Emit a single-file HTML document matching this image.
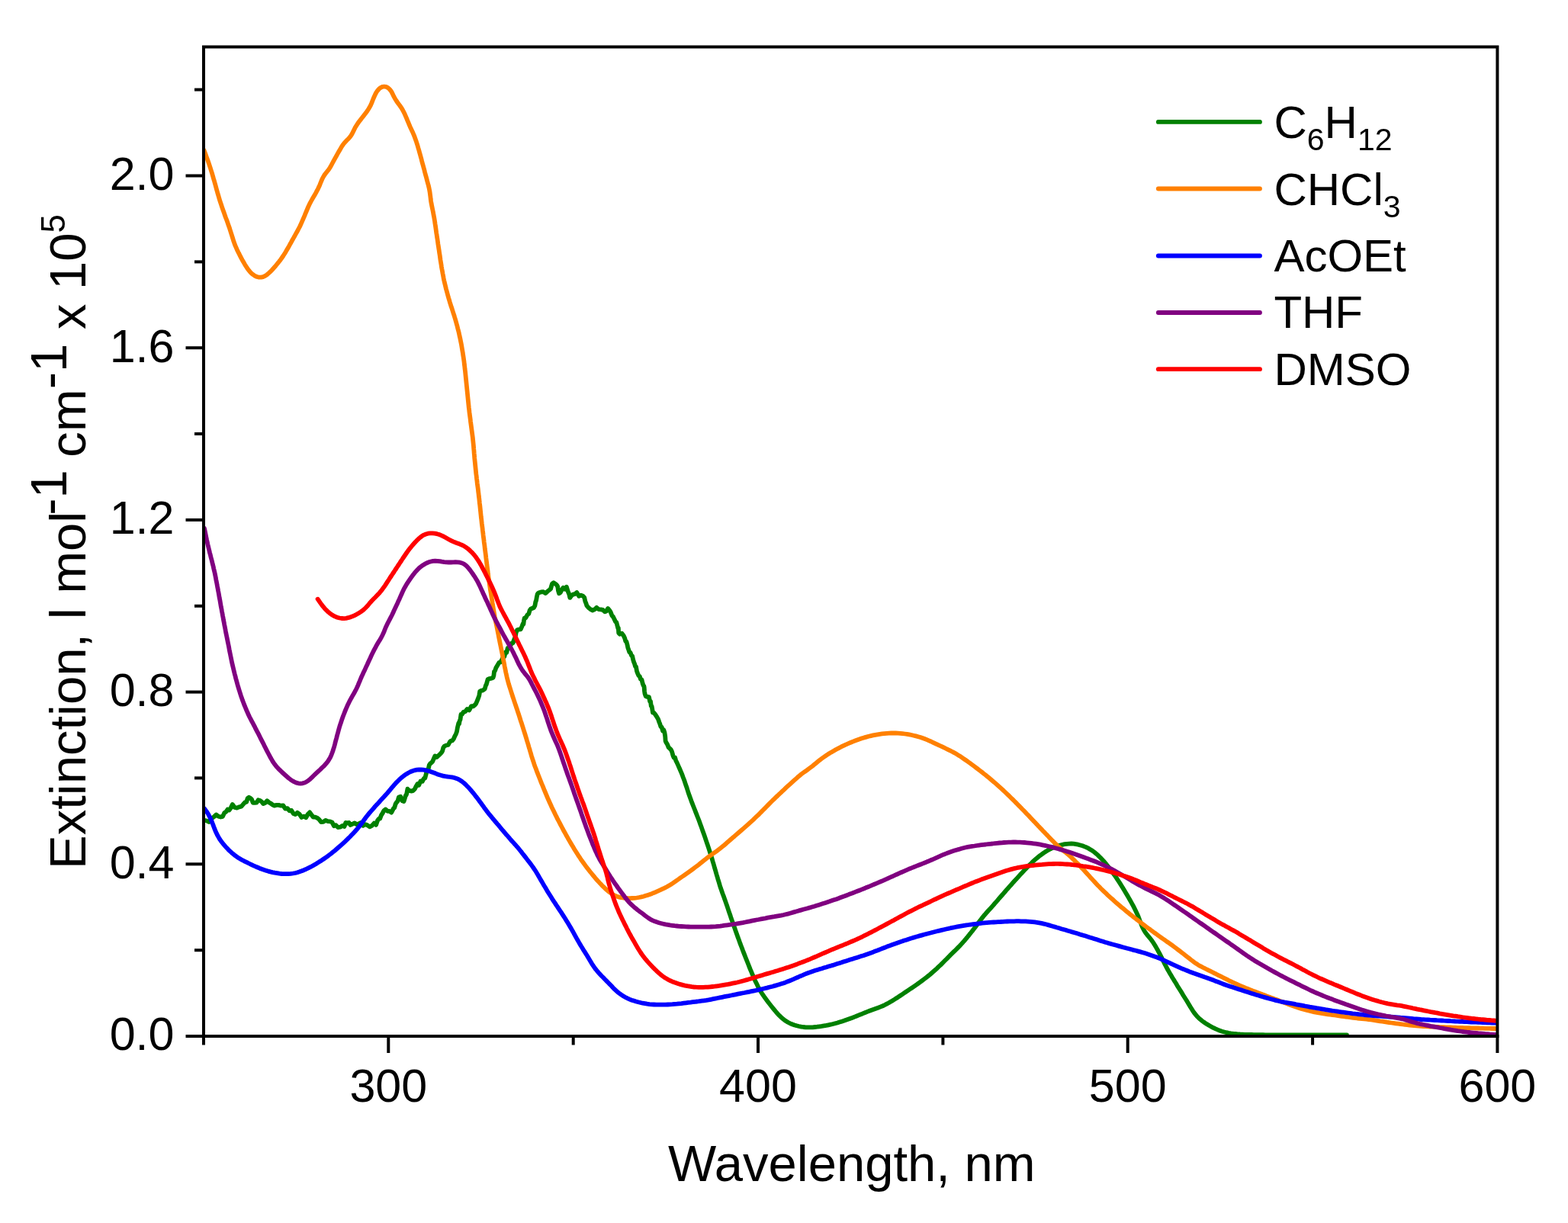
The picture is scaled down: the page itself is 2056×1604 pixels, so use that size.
<!DOCTYPE html>
<html><head><meta charset="utf-8"><title>Extinction spectra</title>
<style>html,body{margin:0;padding:0;background:#fff;}svg{display:block;}</style>
</head><body>
<svg xmlns="http://www.w3.org/2000/svg" width="2056" height="1604" viewBox="0 0 2056 1604">
<rect width="2056" height="1604" fill="#ffffff"/>
<g>
<defs><clipPath id="pc"><rect x="267" y="61.5" width="1696.4" height="1298.5"/></clipPath></defs>
<g clip-path="url(#pc)" fill="none" stroke-width="5.8" stroke-linejoin="round" stroke-linecap="round">
<path d="M268,1075.8 271,1076.5 273.9,1078 276.5,1074.6 278.6,1072.7 280.9,1071 283.6,1068.5 286.5,1070.7 289.4,1071.5 292,1070.9 294.3,1065.9 296.4,1064.7 298.5,1061.6 300.5,1062.5 302.5,1059.7 304.8,1055.1 307.7,1059 310.6,1059.6 313.5,1058.4 316.5,1057.7 319.2,1054.5 321.5,1052.1 323.2,1051.8 324.6,1047.1 326.4,1045.7 328.6,1047 330.1,1048.6 331.8,1052.9 334.3,1052.9 336.4,1052.7 338.6,1049.3 341.1,1050 343.1,1051.5 345.2,1054.1 347.9,1052.8 350.2,1050.2 352.8,1052.5 355.3,1053.9 357.3,1055.4 359.7,1056.6 362.5,1055.9 365.5,1055.9 368.4,1056.7 371.3,1056.5 374.1,1060.6 376.9,1060.1 379.6,1063.4 382.2,1062.9 384.7,1067 387.3,1068.1 389.9,1065.8 392.7,1067.9 395.5,1072 398.4,1070.6 401.2,1072.3 403.6,1068 406.1,1065.4 408.7,1068.9 410.8,1071.7 412.9,1071.6 415.4,1072.4 418.2,1074.5 421.1,1078.1 424,1077.9 426.9,1075.9 429.8,1077.2 432.7,1077.4 435.4,1078.4 437.9,1083.3 440.4,1082.3 443.1,1085.1 446.1,1084.7 449,1083 451.5,1083.9 453.4,1078.9 455.5,1079.6 457.5,1078.9 459.6,1082 462.4,1080.6 465,1079.5 467.8,1081.3 470.7,1080.2 473.5,1078.9 476.1,1082.9 478.8,1081.1 481.8,1082.3 484.8,1084.3 487.7,1082.9 490.6,1079.6 493.1,1081.9 495,1076.3 496.7,1073.9 498.2,1073.6 499.9,1069.2 501.6,1066.6 503.3,1063.2 505.5,1061.4 508.2,1063.8 510.6,1063.9 513.2,1065.7 514.9,1062.4 516.1,1060 517.2,1059.4 518.6,1054.6 519.9,1052.4 521.3,1051 522.9,1045.5 525.2,1044.8 527.3,1050.2 529.5,1051 531,1046.4 531.9,1043.3 532.6,1042.8 533.3,1040.8 534.4,1034.7 536.4,1036.7 539,1037.6 541.6,1037.1 543.9,1034.7 545.8,1030.9 547.5,1028.1 549.2,1029.8 551.4,1024.5 553.8,1024.9 555.9,1020.8 557.3,1020.6 558.3,1016.8 559.3,1012.7 560.4,1009.3 561.6,1009 562.8,1003.4 564.2,1001.4 565.7,1000.3 567.1,998.9 568.7,995.3 570.4,991.4 572.7,993 575.3,990.7 577.5,988.5 578.9,987 580.1,985 581.3,980.6 582.8,978.6 585.1,977.5 587.7,977 589.8,973 591.5,971.5 593,971.3 594.8,969.2 596.4,965.3 597.8,962.8 599,959.6 599.8,954.7 600.6,951.4 601.3,948.4 602,949.4 602.7,945.5 603.5,943.8 604.5,936.8 605.8,936.9 607.7,933.9 610.1,933.2 612.7,929.9 615.3,931.4 618,926.1 620.4,926.3 622.3,924.9 624,923.1 625.4,919.8 626.6,916.9 627.5,914.4 628.3,912.1 629.2,906.7 630.8,905.8 633.4,905.3 635.7,903.5 637,898.8 637.8,897.6 638.5,895 639.6,890.9 641.8,890.1 644.6,889.6 646.5,888.8 647.4,886.1 648,880.8 648.6,880.3 649.3,879 650.4,875.7 652.2,872.7 654.3,869.1 656.3,868.4 658.1,865.2 659.7,862.1 661.3,861.3 662.9,855.4 664.3,855.7 665.7,849.9 667.3,849.9 669.1,847 671,843.6 672.7,843.1 673.9,839.5 674.8,837.2 675.7,835.7 676.6,829.9 678.1,826.3 680.4,825.6 682.7,825.4 684.6,821.1 685.7,818.1 686.4,818.5 686.9,814.4 687.7,810.6 689.3,810.3 691.7,806.1 693.3,805.1 694.6,800.4 695.9,798.7 697.5,798 699.9,797 701.4,794.3 702.3,789.3 703.1,787.3 703.8,783.2 704.6,779.5 705.5,778.2 706.9,777.2 709.5,776.4 712.4,776.2 715.3,778 718.3,775.3 720.7,773.5 722.1,772.1 723.1,768.5 724.1,765.4 725.9,764.3 728.5,765.9 730.3,767.6 731.3,769.6 732,774.8 733,778.3 734.8,777.1 736.7,773.5 738.4,770.8 740.5,772.6 742.9,769.7 744.5,775.1 745.4,777.3 746.2,779.1 747.3,783.9 749.3,781.2 751.4,779.7 753.6,779.2 756.3,777.1 759.1,781.8 761.7,780.6 764.3,781.7 766.2,783.5 767.4,788.8 768.3,790.9 769.4,794.4 771.4,796.7 774,798.9 776.8,800.5 779.6,799.3 782.3,796.8 785,799.2 787.7,799.3 790.4,799.9 793.1,802.3 795.1,801.5 797.1,798 799.1,800.3 800.8,803.1 802.4,807.2 804,809 805.5,812 807,815.2 808.3,816.3 809.5,820.8 810.4,824.2 810.8,823.5 811.2,830.2 812.7,831.7 815.3,830.6 817.7,833.7 819.2,837 820.3,841.1 821.4,841.5 822.4,845.2 823.3,849.4 824.2,851.9 825.3,855.3 826.6,855.9 827.9,859.5 829.1,860.3 830.2,865.3 831.2,868.6 832.1,870.7 833,873.9 834,874.5 835,880.3 836.2,883.4 837.4,886.1 838.7,886.9 840,890.7 841.4,891.3 842.7,896.6 843.7,899.2 844.4,899.9 844.7,901.7 845,906.3 845.5,909.7 846.8,913.3 849,914 851,914.2 852.2,920.3 853,919.9 853.8,926 854.6,926.2 855.2,929.8 856,934.7 857.2,934.6 859.1,936.9 861.4,940.4 863.2,943.7 864.3,947 865.2,949.2 866.4,953 867.7,953.8 869,958.5 870.3,957.4 871.4,960.7 872.1,965 872.3,966.9 872.6,971.8 873.7,974.2 875.1,976.3 876.7,980.3 878.2,981.6 879.7,983.1 881.1,986.1 882.4,990.8 883.7,993.8 885,993.4 886.2,997.4 887.5,1000.1 888.8,1002.9 890,1005.6 891.2,1008.3 892.4,1011.1 893.6,1013.9 894.7,1016.6 895.7,1019.5 896.8,1022.3 897.8,1025.1 898.7,1027.9 899.7,1030.8 900.7,1033.6 901.6,1036.5 902.5,1039.3 903.5,1042.2 904.5,1045 905.5,1047.8 906.5,1050.6 907.6,1053.4 908.7,1056.2 909.8,1059 910.9,1061.8 912,1064.6 913.1,1067.4 914.2,1070.2 915.3,1073 916.4,1075.8 917.4,1078.6 918.4,1081.4 919.5,1084.2 920.5,1087.1 921.5,1089.9 922.5,1092.7 923.5,1095.5 924.5,1098.4 925.4,1101.2 926.4,1104.1 927.4,1106.9 928.3,1109.7 929.3,1112.6 930.2,1115.4 931.1,1118.3 932,1121.2 932.9,1124 933.8,1126.9 934.6,1129.8 935.5,1132.7 936.3,1135.5 937.1,1138.4 938,1141.3 938.8,1144.2 939.6,1147.1 940.5,1149.9 941.3,1152.8 942.2,1155.7 943.1,1158.6 943.9,1161.4 944.8,1164.3 945.8,1167.1 946.8,1170 947.8,1172.8 948.9,1175.6 949.9,1178.4 950.9,1181.2 951.9,1184.1 952.9,1186.9 953.8,1189.7 954.8,1192.6 955.7,1195.4 956.7,1198.3 957.7,1201.1 958.6,1204 959.6,1206.8 960.6,1209.6 961.6,1212.5 962.6,1215.3 963.6,1218.1 964.6,1220.9 965.6,1223.8 966.6,1226.6 967.6,1229.4 968.7,1232.2 969.7,1235.1 970.7,1237.9 971.8,1240.7 972.9,1243.5 973.9,1246.3 975,1249.1 976.1,1251.9 977.2,1254.7 978.3,1257.5 979.4,1260.3 980.5,1263 981.6,1265.8 982.7,1268.6 983.8,1271.4 985,1274.2 986.1,1276.9 987.3,1279.7 988.5,1282.5 989.7,1285.2 991,1287.9 992.3,1290.6 993.6,1293.3 995,1296 996.5,1298.6 998,1301.2 999.6,1303.7 1001.3,1306.2 1003,1308.6 1004.8,1311 1006.6,1313.4 1008.4,1315.8 1010.3,1318.2 1012.1,1320.5 1014,1322.9 1015.9,1325.2 1017.8,1327.5 1019.8,1329.7 1021.9,1331.9 1024,1334 1026.3,1335.9 1028.6,1337.8 1031.1,1339.5 1033.6,1341 1036.3,1342.3 1039.1,1343.5 1041.9,1344.5 1044.7,1345.3 1047.6,1346 1050.6,1346.6 1053.5,1347 1056.5,1347.3 1059.5,1347.4 1062.5,1347.4 1065.5,1347.3 1068.5,1347 1071.5,1346.7 1074.4,1346.3 1077.4,1345.9 1080.4,1345.4 1083.3,1344.9 1086.3,1344.3 1089.2,1343.7 1092.1,1343 1095,1342.2 1097.9,1341.5 1100.8,1340.6 1103.7,1339.7 1106.5,1338.8 1109.3,1337.8 1112.1,1336.8 1115,1335.7 1117.8,1334.7 1120.6,1333.6 1123.4,1332.5 1126.1,1331.4 1128.9,1330.3 1131.7,1329.1 1134.5,1328 1137.3,1326.9 1140.1,1325.8 1142.9,1324.7 1145.7,1323.7 1148.5,1322.7 1151.3,1321.7 1154.1,1320.6 1156.9,1319.5 1159.6,1318.3 1162.3,1316.9 1164.9,1315.5 1167.5,1314 1170.1,1312.5 1172.7,1310.9 1175.2,1309.3 1177.7,1307.7 1180.2,1306 1182.7,1304.3 1185.2,1302.6 1187.6,1301 1190.1,1299.3 1192.6,1297.6 1195.1,1296 1197.6,1294.3 1200.1,1292.6 1202.6,1290.9 1205,1289.1 1207.4,1287.4 1209.8,1285.6 1212.2,1283.8 1214.6,1281.9 1216.9,1280.1 1219.3,1278.2 1221.6,1276.2 1223.8,1274.3 1226.1,1272.3 1228.3,1270.3 1230.5,1268.2 1232.7,1266.2 1234.8,1264.1 1236.9,1262 1239.1,1259.8 1241.2,1257.7 1243.3,1255.6 1245.4,1253.4 1247.5,1251.3 1249.7,1249.2 1251.8,1247.2 1254,1245 1256.1,1242.9 1258.2,1240.8 1260.2,1238.6 1262.2,1236.3 1264.2,1234.1 1266.1,1231.8 1268.1,1229.5 1270,1227.2 1271.8,1224.8 1273.7,1222.5 1275.6,1220.1 1277.4,1217.7 1279.2,1215.4 1281,1213 1282.8,1210.5 1284.6,1208.1 1286.4,1205.7 1288.2,1203.4 1290.1,1201 1292,1198.8 1294,1196.5 1296,1194.3 1298.1,1192.1 1300.1,1189.8 1302.1,1187.6 1304,1185.3 1306,1183.1 1308,1180.8 1309.9,1178.5 1311.9,1176.3 1313.9,1174 1315.8,1171.8 1317.8,1169.5 1319.8,1167.2 1321.8,1165 1323.8,1162.7 1325.8,1160.5 1327.8,1158.2 1329.7,1156 1331.8,1153.8 1333.8,1151.6 1335.8,1149.3 1337.8,1147.1 1339.9,1144.9 1341.9,1142.8 1344,1140.6 1346.1,1138.4 1348.1,1136.2 1350.2,1134.1 1352.4,1132 1354.5,1129.9 1356.7,1127.9 1359,1125.9 1361.3,1124 1363.7,1122.1 1366.1,1120.4 1368.5,1118.6 1371,1117 1373.6,1115.4 1376.2,1114 1378.9,1112.6 1381.6,1111.4 1384.4,1110.3 1387.2,1109.3 1390.1,1108.5 1393,1107.8 1395.9,1107.2 1398.9,1106.8 1401.8,1106.6 1404.8,1106.5 1407.8,1106.7 1410.7,1107.2 1413.7,1107.7 1416.6,1108.5 1419.4,1109.3 1422.2,1110.4 1425,1111.5 1427.7,1112.9 1430.2,1114.4 1432.7,1116 1435.1,1117.8 1437.4,1119.7 1439.6,1121.7 1441.8,1123.8 1443.9,1125.9 1446,1128.1 1448,1130.3 1449.9,1132.6 1451.8,1135 1453.7,1137.3 1455.5,1139.7 1457.3,1142.1 1459,1144.5 1460.8,1147 1462.5,1149.4 1464.2,1151.9 1465.8,1154.4 1467.5,1156.9 1469.1,1159.4 1470.7,1162 1472.3,1164.5 1473.8,1167.1 1475.4,1169.7 1476.9,1172.2 1478.4,1174.8 1479.9,1177.4 1481.4,1180 1482.9,1182.6 1484.4,1185.3 1485.8,1187.9 1487.2,1190.6 1488.5,1193.2 1489.8,1195.9 1491.1,1198.7 1492.3,1201.4 1493.4,1204.2 1494.4,1207 1495.5,1209.8 1496.6,1212.6 1497.7,1215.4 1499,1218.1 1500.4,1220.7 1502,1223.2 1503.8,1225.6 1505.7,1227.9 1507.6,1230.2 1509.5,1232.5 1511.2,1234.9 1512.9,1237.4 1514.5,1240 1516,1242.6 1517.5,1245.2 1518.9,1247.8 1520.3,1250.4 1521.7,1253.1 1523.1,1255.8 1524.4,1258.5 1525.7,1261.1 1527,1263.8 1528.4,1266.5 1529.8,1269.2 1531.2,1271.8 1532.7,1274.4 1534.2,1277 1535.8,1279.6 1537.3,1282.2 1538.9,1284.7 1540.4,1287.3 1542,1289.8 1543.5,1292.4 1545.1,1295 1546.7,1297.5 1548.3,1300.1 1549.9,1302.6 1551.4,1305.2 1553,1307.7 1554.6,1310.2 1556.2,1312.8 1557.8,1315.4 1559.3,1317.9 1560.8,1320.5 1562.4,1323.1 1564,1325.6 1565.7,1328.1 1567.5,1330.4 1569.4,1332.7 1571.5,1334.8 1573.7,1336.8 1576,1338.7 1578.4,1340.5 1580.9,1342.2 1583.5,1343.8 1586,1345.3 1588.7,1346.8 1591.3,1348.1 1594,1349.4 1596.8,1350.6 1599.6,1351.7 1602.4,1352.7 1605.3,1353.5 1608.2,1354.2 1611.1,1354.8 1614.1,1355.3 1617,1355.7 1620,1356 1623,1356.3 1626,1356.5 1629,1356.6 1632,1356.8 1635,1356.9 1638,1357 1641,1357 1644,1357.1 1647,1357.1 1650,1357.2 1653,1357.2 1656,1357.2 1659,1357.3 1662,1357.3 1665,1357.4 1668,1357.4 1671,1357.4 1674,1357.4 1677,1357.4 1680,1357.5 1683,1357.5 1686,1357.5 1689,1357.5 1692,1357.5 1695,1357.5 1698,1357.5 1701,1357.5 1704,1357.5 1707,1357.5 1710,1357.5 1713,1357.5 1716,1357.5 1719,1357.5 1722,1357.5 1725,1357.5 1728,1357.5 1731,1357.5 1734,1357.5 1737,1357.5 1740,1357.5 1743,1357.5 1746,1357.5 1749,1357.5 1752,1357.5 1755,1357.5 1758,1357.5 1761,1357.5 1764,1357.5 1766,1357.5" stroke="#008000"/>
<path d="M267.5,197 268.6,199.8 269.6,202.6 270.6,205.4 271.7,208.3 272.7,211.1 273.7,213.9 274.6,216.7 275.6,219.6 276.5,222.5 277.4,225.3 278.3,228.2 279.1,231.1 279.9,233.9 280.8,236.8 281.6,239.7 282.4,242.6 283.2,245.5 284,248.4 284.8,251.3 285.6,254.2 286.5,257 287.3,259.9 288.2,262.8 289.1,265.6 290.1,268.5 291,271.3 292,274.2 293,277 294,279.8 295,282.7 296,285.5 297.1,288.3 298.1,291.1 299.1,293.9 300.1,296.8 301.1,299.6 302,302.5 302.9,305.3 303.8,308.2 304.7,311 305.6,313.9 306.5,316.8 307.5,319.6 308.6,322.4 309.8,325.1 311,327.9 312.3,330.6 313.7,333.2 315,335.9 316.4,338.6 317.8,341.2 319.3,343.8 320.8,346.4 322.4,349 324,351.5 325.7,353.9 327.6,356.2 329.7,358.4 331.9,360.2 334.3,361.8 336.9,363 339.6,363.6 342.3,363.7 345,363.1 347.6,361.9 350,360.3 352.2,358.4 354.4,356.4 356.5,354.2 358.5,352 360.5,349.8 362.4,347.5 364.3,345.2 366.2,342.8 368,340.4 369.7,338 371.4,335.5 373,333 374.6,330.4 376.1,327.8 377.6,325.2 379.1,322.6 380.5,320 382,317.4 383.4,314.7 384.9,312.1 386.4,309.5 387.8,306.9 389.3,304.3 390.7,301.6 392.1,299 393.5,296.3 394.7,293.6 395.9,290.9 397.1,288.1 398.3,285.3 399.5,282.6 400.6,279.8 401.8,277 402.9,274.3 404.1,271.5 405.4,268.8 406.7,266.1 408.1,263.5 409.6,260.8 411.1,258.3 412.6,255.7 414.1,253.1 415.5,250.4 416.9,247.8 418.2,245.1 419.4,242.3 420.5,239.5 421.6,236.8 422.8,234.1 424.2,231.5 425.7,229.1 427.5,226.8 429.3,224.5 431.1,222.2 432.7,219.7 434.2,217.1 435.6,214.5 437,211.9 438.5,209.2 439.9,206.6 441.4,204 442.8,201.4 444.3,198.8 445.8,196.2 447.3,193.6 448.9,191 450.6,188.6 452.5,186.4 454.5,184.3 456.6,182.2 458.5,180.1 460.3,177.8 461.8,175.2 463.1,172.6 464.4,169.9 465.7,167.3 467.3,164.7 468.9,162.2 470.6,159.8 472.5,157.4 474.3,155 476.2,152.7 478,150.3 479.8,147.9 481.6,145.5 483.2,143 484.7,140.5 486.1,137.8 487.3,135.1 488.4,132.3 489.5,129.5 490.7,126.8 491.9,124.1 493.3,121.4 494.9,119 496.8,116.8 498.9,115.1 501.3,113.9 503.8,113.5 506.3,113.9 508.7,115.1 510.7,116.9 512.5,119.1 514,121.6 515.3,124.2 516.6,126.9 518,129.5 519.6,132 521.3,134.5 523.1,136.9 524.8,139.3 526.5,141.7 528,144.3 529.4,146.9 530.7,149.6 531.9,152.4 533.1,155.1 534.2,157.9 535.4,160.7 536.5,163.4 537.7,166.2 539,168.9 540.2,171.6 541.5,174.3 542.7,177.1 543.8,179.9 544.8,182.7 545.8,185.5 546.7,188.4 547.6,191.2 548.4,194.1 549.3,197 550.1,199.9 550.9,202.8 551.7,205.7 552.5,208.6 553.2,211.5 554,214.4 554.8,217.3 555.6,220.2 556.4,223.1 557.1,226 557.9,228.9 558.7,231.8 559.5,234.7 560.2,237.5 561,240.4 561.8,243.3 562.5,246.2 563.1,249.2 563.6,252.1 564,255.1 564.4,258.1 564.7,261 565.1,264 565.6,266.9 566.2,269.9 566.8,272.8 567.4,275.8 568,278.7 568.5,281.7 569.1,284.6 569.6,287.6 570.1,290.5 570.5,293.5 571,296.5 571.4,299.4 571.8,302.4 572.2,305.4 572.7,308.3 573.1,311.3 573.6,314.3 574,317.2 574.4,320.2 574.9,323.2 575.3,326.1 575.8,329.1 576.2,332.1 576.7,335 577.1,338 577.5,341 578,343.9 578.5,346.9 578.9,349.9 579.4,352.8 580,355.8 580.5,358.7 581.1,361.7 581.6,364.6 582.2,367.6 582.9,370.5 583.6,373.4 584.3,376.3 585,379.2 585.8,382.1 586.6,385 587.4,387.9 588.2,390.8 589.1,393.7 589.9,396.6 590.8,399.4 591.7,402.3 592.7,405.1 593.6,408 594.5,410.8 595.5,413.7 596.3,416.5 597.2,419.4 598,422.3 598.8,425.2 599.6,428.1 600.3,431 601.1,433.9 601.8,436.8 602.4,439.8 603.1,442.7 603.7,445.6 604.3,448.6 604.9,451.5 605.4,454.5 605.9,457.4 606.4,460.4 606.9,463.3 607.3,466.3 607.8,469.3 608.2,472.2 608.6,475.2 608.9,478.2 609.3,481.2 609.6,484.2 610,487.1 610.3,490.1 610.6,493.1 610.9,496.1 611.2,499.1 611.5,502.1 611.8,505 612.1,508 612.4,511 612.7,514 613,517 613.3,520 613.6,523 613.9,525.9 614.2,528.9 614.5,531.9 614.8,534.9 615.2,537.9 615.5,540.9 615.9,543.8 616.3,546.8 616.7,549.8 617,552.8 617.4,555.7 617.8,558.7 618.2,561.7 618.6,564.7 619,567.6 619.4,570.6 619.8,573.6 620.1,576.6 620.4,579.5 620.7,582.5 621,585.5 621.2,588.5 621.5,591.5 621.7,594.5 622,597.5 622.2,600.5 622.5,603.5 622.8,606.4 623.1,609.4 623.4,612.4 623.7,615.4 624,618.4 624.3,621.4 624.7,624.3 625,627.3 625.4,630.3 625.7,633.3 626.1,636.3 626.5,639.2 626.9,642.2 627.2,645.2 627.6,648.2 627.9,651.2 628.3,654.1 628.6,657.1 628.9,660.1 629.3,663.1 629.6,666.1 629.9,669.1 630.2,672 630.5,675 630.8,678 631.2,681 631.5,684 631.8,686.9 632.2,689.9 632.6,692.9 632.9,695.9 633.3,698.9 633.6,701.8 634,704.8 634.4,707.8 634.7,710.8 635.1,713.7 635.5,716.7 635.8,719.7 636.2,722.7 636.6,725.7 637,728.6 637.3,731.6 637.7,734.6 638.1,737.6 638.4,740.5 638.8,743.5 639.2,746.5 639.6,749.5 639.9,752.5 640.3,755.4 640.7,758.4 641.1,761.4 641.6,764.3 642,767.3 642.5,770.3 642.9,773.2 643.4,776.2 643.9,779.2 644.3,782.1 644.8,785.1 645.3,788.1 645.7,791 646.2,794 646.7,796.9 647.2,799.9 647.7,802.9 648.2,805.8 648.7,808.8 649.3,811.7 649.9,814.7 650.5,817.6 651.1,820.5 651.7,823.5 652.3,826.4 652.9,829.4 653.5,832.3 654,835.2 654.6,838.2 655.2,841.1 655.8,844.1 656.4,847 657,850 657.6,852.9 658.2,855.8 658.8,858.8 659.3,861.7 659.9,864.7 660.5,867.6 661.1,870.6 661.6,873.5 662.2,876.4 662.8,879.4 663.4,882.3 664.1,885.3 664.7,888.2 665.4,891.1 666.2,894 667,896.9 667.9,899.8 668.8,902.6 669.7,905.5 670.6,908.3 671.5,911.2 672.4,914 673.4,916.9 674.3,919.7 675.3,922.6 676.3,925.4 677.2,928.3 678.2,931.1 679.1,934 680.1,936.8 681,939.7 681.9,942.5 682.8,945.4 683.8,948.2 684.7,951.1 685.6,953.9 686.5,956.8 687.4,959.7 688.3,962.5 689.2,965.4 690.1,968.3 690.9,971.1 691.8,974 692.7,976.9 693.5,979.8 694.4,982.6 695.2,985.5 696.1,988.4 696.9,991.3 697.8,994.1 698.7,997 699.7,999.8 700.6,1002.7 701.6,1005.5 702.7,1008.3 703.7,1011.1 704.8,1013.9 705.9,1016.7 707,1019.5 708.1,1022.3 709.2,1025.1 710.3,1027.9 711.5,1030.6 712.6,1033.4 713.7,1036.2 714.9,1039 716,1041.7 717.2,1044.5 718.4,1047.3 719.6,1050 720.8,1052.7 722.1,1055.5 723.3,1058.2 724.6,1060.9 725.9,1063.6 727.2,1066.3 728.5,1069 729.9,1071.7 731.2,1074.4 732.6,1077 734,1079.7 735.4,1082.4 736.8,1085 738.2,1087.7 739.6,1090.3 741.1,1092.9 742.5,1095.5 744,1098.1 745.5,1100.8 747,1103.4 748.5,1105.9 750,1108.5 751.6,1111.1 753.1,1113.7 754.7,1116.2 756.3,1118.8 757.9,1121.3 759.6,1123.8 761.2,1126.3 762.9,1128.8 764.7,1131.2 766.4,1133.6 768.2,1136.1 770,1138.5 771.8,1140.8 773.7,1143.2 775.6,1145.5 777.5,1147.9 779.4,1150.2 781.3,1152.5 783.3,1154.7 785.3,1156.9 787.3,1159.1 789.4,1161.3 791.6,1163.4 793.7,1165.5 796,1167.5 798.3,1169.4 800.7,1171.2 803.1,1172.8 805.7,1174.3 808.4,1175.5 811.2,1176.4 814,1177.1 817,1177.5 819.9,1177.8 822.9,1178 825.9,1178.1 828.9,1178 831.9,1177.9 834.9,1177.5 837.8,1177 840.7,1176.4 843.6,1175.7 846.5,1174.8 849.3,1173.9 852.2,1172.9 855,1171.9 857.8,1170.8 860.5,1169.6 863.3,1168.4 866,1167.2 868.7,1165.9 871.4,1164.6 874.1,1163.2 876.7,1161.7 879.3,1160.2 881.8,1158.6 884.3,1156.9 886.8,1155.2 889.2,1153.5 891.7,1151.7 894.1,1150 896.6,1148.3 899,1146.6 901.5,1144.9 904,1143.1 906.4,1141.4 908.8,1139.6 911.2,1137.8 913.6,1136 916,1134.2 918.3,1132.3 920.6,1130.4 923,1128.5 925.3,1126.7 927.7,1124.8 930.1,1123 932.5,1121.3 935,1119.5 937.4,1117.8 939.9,1116.1 942.3,1114.3 944.6,1112.5 947,1110.6 949.3,1108.7 951.6,1106.7 953.8,1104.7 956.1,1102.8 958.4,1100.8 960.6,1098.8 962.9,1096.9 965.2,1094.9 967.4,1093 969.7,1091 972,1089 974.2,1087.1 976.5,1085.1 978.8,1083.1 981,1081.1 983.2,1079.1 985.5,1077.1 987.7,1075.1 989.8,1073 992,1070.9 994.2,1068.9 996.3,1066.7 998.4,1064.6 1000.5,1062.5 1002.6,1060.4 1004.7,1058.2 1006.8,1056.1 1009,1053.9 1011.1,1051.8 1013.2,1049.7 1015.4,1047.6 1017.5,1045.5 1019.7,1043.5 1021.9,1041.4 1024.1,1039.4 1026.2,1037.3 1028.4,1035.3 1030.6,1033.2 1032.8,1031.2 1035.1,1029.1 1037.3,1027.1 1039.5,1025.1 1041.7,1023.1 1044,1021.1 1046.2,1019.1 1048.5,1017.2 1050.8,1015.3 1053.2,1013.5 1055.6,1011.8 1058.1,1010.1 1060.5,1008.3 1062.9,1006.5 1065.3,1004.7 1067.6,1002.8 1069.9,1000.9 1072.2,999 1074.6,997.1 1077,995.3 1079.4,993.5 1081.8,991.8 1084.3,990.1 1086.8,988.5 1089.4,986.9 1092,985.4 1094.6,983.9 1097.2,982.5 1099.9,981.1 1102.5,979.7 1105.2,978.4 1107.9,977.1 1110.7,975.9 1113.4,974.7 1116.2,973.5 1119,972.4 1121.8,971.3 1124.6,970.3 1127.4,969.3 1130.2,968.3 1133.1,967.4 1136,966.6 1138.9,965.8 1141.8,965.1 1144.7,964.4 1147.7,963.8 1150.6,963.3 1153.6,962.8 1156.5,962.4 1159.5,962.1 1162.5,961.8 1165.5,961.6 1168.5,961.5 1171.5,961.4 1174.5,961.5 1177.5,961.6 1180.5,961.8 1183.4,962.1 1186.4,962.5 1189.4,962.9 1192.3,963.4 1195.3,964 1198.2,964.7 1201.1,965.4 1204,966.2 1206.9,967 1209.7,968 1212.5,969 1215.3,970.1 1218.1,971.3 1220.8,972.5 1223.5,973.8 1226.2,975.1 1228.9,976.4 1231.6,977.7 1234.4,978.9 1237.1,980.2 1239.8,981.5 1242.5,982.8 1245.2,984.1 1247.9,985.5 1250.5,986.9 1253.1,988.3 1255.7,989.9 1258.3,991.4 1260.8,993.1 1263.2,994.8 1265.7,996.5 1268.1,998.2 1270.6,1000 1273,1001.7 1275.4,1003.5 1277.8,1005.3 1280.2,1007.1 1282.6,1008.9 1285,1010.8 1287.4,1012.6 1289.7,1014.5 1292.1,1016.3 1294.4,1018.2 1296.7,1020.1 1299,1022 1301.3,1024 1303.6,1025.9 1305.9,1027.9 1308.1,1029.9 1310.3,1031.9 1312.6,1033.9 1314.8,1035.9 1317,1038 1319.1,1040 1321.3,1042.1 1323.5,1044.2 1325.6,1046.3 1327.8,1048.4 1329.9,1050.5 1332,1052.6 1334.1,1054.7 1336.2,1056.9 1338.3,1059 1340.4,1061.2 1342.5,1063.3 1344.6,1065.5 1346.7,1067.7 1348.8,1069.8 1350.8,1072 1352.9,1074.2 1354.9,1076.4 1357,1078.5 1359.1,1080.7 1361.1,1082.9 1363.2,1085.1 1365.3,1087.2 1367.3,1089.4 1369.4,1091.6 1371.5,1093.8 1373.6,1095.9 1375.6,1098.1 1377.7,1100.2 1379.8,1102.4 1381.9,1104.5 1384,1106.7 1386.2,1108.8 1388.4,1110.8 1390.6,1112.7 1393,1114.6 1395.3,1116.4 1397.7,1118.3 1400,1120.2 1402.2,1122.2 1404.4,1124.2 1406.6,1126.3 1408.7,1128.4 1410.8,1130.5 1413,1132.6 1415.1,1134.8 1417.1,1137 1419.2,1139.1 1421.3,1141.3 1423.3,1143.5 1425.3,1145.7 1427.3,1147.9 1429.3,1150.2 1431.4,1152.4 1433.4,1154.6 1435.4,1156.8 1437.4,1159 1439.5,1161.2 1441.6,1163.3 1443.7,1165.5 1445.9,1167.6 1448,1169.6 1450.2,1171.7 1452.4,1173.8 1454.6,1175.8 1456.8,1177.8 1459.1,1179.8 1461.3,1181.8 1463.5,1183.8 1465.8,1185.8 1468.1,1187.7 1470.4,1189.7 1472.7,1191.6 1475,1193.5 1477.3,1195.4 1479.6,1197.3 1481.9,1199.2 1484.3,1201.1 1486.6,1203 1489,1204.8 1491.4,1206.6 1493.8,1208.5 1496.1,1210.3 1498.5,1212.1 1500.9,1213.9 1503.3,1215.7 1505.8,1217.5 1508.2,1219.2 1510.6,1221 1513,1222.8 1515.5,1224.5 1517.9,1226.3 1520.3,1228 1522.8,1229.8 1525.2,1231.5 1527.7,1233.2 1530.1,1235 1532.6,1236.7 1535,1238.4 1537.5,1240.2 1539.9,1242 1542.3,1243.8 1544.7,1245.6 1547.1,1247.4 1549.4,1249.2 1551.8,1251 1554.2,1252.9 1556.5,1254.8 1558.9,1256.6 1561.2,1258.5 1563.6,1260.3 1566,1262.1 1568.5,1263.8 1571,1265.4 1573.6,1266.9 1576.2,1268.3 1578.9,1269.7 1581.6,1271 1584.3,1272.4 1587,1273.7 1589.7,1275 1592.3,1276.4 1595,1277.7 1597.7,1279.1 1600.4,1280.4 1603.1,1281.8 1605.7,1283.1 1608.4,1284.4 1611.1,1285.8 1613.8,1287.1 1616.5,1288.4 1619.3,1289.6 1622,1290.8 1624.7,1292.1 1627.5,1293.3 1630.2,1294.4 1633,1295.6 1635.8,1296.7 1638.6,1297.9 1641.3,1299 1644.1,1300.1 1646.9,1301.1 1649.8,1302.2 1652.6,1303.2 1655.4,1304.3 1658.2,1305.3 1661,1306.4 1663.8,1307.4 1666.6,1308.5 1669.4,1309.5 1672.2,1310.6 1675,1311.6 1677.9,1312.7 1680.7,1313.8 1683.5,1314.8 1686.3,1315.9 1689.1,1317 1691.9,1318 1694.7,1319.1 1697.5,1320.1 1700.4,1321 1703.2,1322 1706.1,1322.9 1709,1323.7 1711.8,1324.5 1714.7,1325.3 1717.7,1326 1720.6,1326.7 1723.5,1327.3 1726.5,1327.8 1729.4,1328.4 1732.4,1328.9 1735.3,1329.4 1738.3,1329.8 1741.3,1330.3 1744.2,1330.7 1747.2,1331.1 1750.2,1331.5 1753.1,1331.9 1756.1,1332.4 1759.1,1332.8 1762.1,1333.2 1765,1333.6 1768,1334 1771,1334.4 1774,1334.8 1776.9,1335.1 1779.9,1335.5 1782.9,1335.8 1785.9,1336.1 1788.9,1336.4 1791.8,1336.7 1794.8,1337.1 1797.8,1337.5 1800.8,1337.9 1803.7,1338.3 1806.7,1338.8 1809.7,1339.3 1812.6,1339.7 1815.6,1340.2 1818.6,1340.7 1821.5,1341.1 1824.5,1341.5 1827.5,1341.9 1830.4,1342.3 1833.4,1342.7 1836.4,1343.1 1839.4,1343.5 1842.3,1343.9 1845.3,1344.2 1848.3,1344.6 1851.3,1344.9 1854.3,1345.2 1857.3,1345.4 1860.3,1345.7 1863.2,1345.9 1866.2,1346 1869.2,1346.2 1872.2,1346.3 1875.2,1346.5 1878.2,1346.6 1881.2,1346.7 1884.2,1346.8 1887.2,1347 1890.2,1347.1 1893.2,1347.2 1896.2,1347.3 1899.2,1347.4 1902.2,1347.5 1905.2,1347.6 1908.2,1347.7 1911.2,1347.8 1914.2,1347.9 1917.2,1348 1920.2,1348.1 1923.2,1348.2 1926.2,1348.2 1929.2,1348.3 1932.2,1348.4 1935.2,1348.5 1938.2,1348.5 1941.2,1348.6 1944.2,1348.7 1947.2,1348.8 1950.2,1348.8 1953.2,1348.9 1956.2,1349 1959.2,1349 1962.2,1349.1" stroke="#FF8000"/>
<path d="M268,1060.5 269.8,1062.9 271.5,1065.3 273.1,1067.8 274.5,1070.5 275.8,1073.1 277.1,1075.9 278.2,1078.7 279.3,1081.5 280.3,1084.3 281.4,1087.1 282.5,1089.8 283.7,1092.6 285,1095.3 286.5,1097.9 288,1100.5 289.7,1102.9 291.5,1105.3 293.4,1107.7 295.3,1109.9 297.3,1112.1 299.4,1114.3 301.6,1116.4 303.8,1118.4 306.1,1120.3 308.4,1122.2 310.8,1123.9 313.3,1125.6 315.9,1127.1 318.6,1128.5 321.2,1129.9 323.9,1131.2 326.6,1132.5 329.3,1133.8 332,1135.1 334.8,1136.3 337.5,1137.5 340.3,1138.7 343.1,1139.8 345.9,1140.8 348.7,1141.7 351.6,1142.6 354.5,1143.4 357.4,1144.1 360.3,1144.7 363.3,1145.2 366.3,1145.7 369.2,1146 372.2,1146.1 375.2,1146.2 378.2,1146.1 381.2,1145.9 384.1,1145.5 387.1,1145 390,1144.2 392.8,1143.3 395.6,1142.3 398.4,1141.2 401.2,1140 403.9,1138.7 406.5,1137.4 409.2,1136 411.8,1134.5 414.4,1133 416.9,1131.4 419.5,1129.8 422,1128.2 424.5,1126.5 426.9,1124.8 429.4,1123.1 431.8,1121.3 434.2,1119.5 436.5,1117.6 438.9,1115.7 441.1,1113.8 443.4,1111.8 445.7,1109.8 447.9,1107.8 450.1,1105.8 452.3,1103.8 454.5,1101.7 456.6,1099.6 458.8,1097.5 460.9,1095.3 462.9,1093.2 465,1091 467,1088.8 469,1086.5 470.9,1084.2 472.7,1081.8 474.5,1079.4 476.2,1077 478,1074.5 479.8,1072.1 481.6,1069.8 483.5,1067.4 485.4,1065.1 487.4,1062.9 489.4,1060.6 491.3,1058.3 493.3,1056.1 495.4,1053.9 497.4,1051.7 499.4,1049.4 501.4,1047.2 503.5,1045 505.5,1042.8 507.5,1040.6 509.4,1038.3 511.4,1036 513.3,1033.7 515.3,1031.4 517.2,1029.2 519.2,1026.9 521.3,1024.8 523.4,1022.7 525.6,1020.7 527.9,1018.7 530.3,1016.9 532.8,1015.2 535.3,1013.7 538,1012.3 540.7,1011.2 543.5,1010.3 546.4,1009.7 549.3,1009.4 552.3,1009.5 555.2,1009.7 558.2,1010.3 561.1,1011 563.9,1011.8 566.7,1012.8 569.6,1013.8 572.4,1014.9 575.2,1015.9 578,1016.8 580.9,1017.6 583.8,1018.2 586.7,1018.6 589.7,1019 592.7,1019.4 595.6,1020 598.4,1020.9 601.1,1022 603.6,1023.5 606.1,1025.2 608.4,1027 610.6,1029 612.7,1031.2 614.8,1033.3 616.8,1035.6 618.7,1037.9 620.6,1040.2 622.5,1042.5 624.3,1044.9 626.2,1047.3 628,1049.7 629.7,1052.1 631.5,1054.5 633.3,1056.9 635,1059.4 636.8,1061.8 638.6,1064.2 640.4,1066.6 642.3,1068.9 644.2,1071.2 646.1,1073.5 648.1,1075.8 650,1078.1 651.9,1080.4 653.9,1082.7 655.8,1085 657.7,1087.3 659.7,1089.6 661.6,1091.9 663.5,1094.2 665.5,1096.4 667.5,1098.7 669.4,1101 671.4,1103.2 673.4,1105.4 675.5,1107.7 677.4,1109.9 679.4,1112.2 681.3,1114.5 683.2,1116.8 685,1119.2 686.9,1121.6 688.7,1123.9 690.5,1126.3 692.4,1128.7 694.2,1131.1 696,1133.4 697.8,1135.9 699.5,1138.3 701.2,1140.8 702.8,1143.3 704.4,1145.9 705.9,1148.5 707.4,1151.1 708.9,1153.7 710.4,1156.3 711.9,1158.9 713.4,1161.5 715,1164 716.5,1166.6 718,1169.2 719.6,1171.8 721.2,1174.3 722.8,1176.8 724.4,1179.4 726,1181.9 727.7,1184.4 729.3,1186.9 731,1189.4 732.6,1191.9 734.3,1194.4 736,1196.9 737.6,1199.4 739.2,1201.9 740.9,1204.5 742.4,1207 744,1209.6 745.5,1212.1 747.1,1214.7 748.6,1217.3 750.1,1219.9 751.6,1222.5 753,1225.1 754.5,1227.8 755.9,1230.4 757.4,1233 758.9,1235.6 760.4,1238.2 761.9,1240.8 763.5,1243.3 765.1,1245.9 766.7,1248.4 768.3,1251 769.9,1253.5 771.4,1256.1 773,1258.7 774.5,1261.2 776,1263.8 777.7,1266.3 779.4,1268.8 781.1,1271.2 783,1273.5 785,1275.8 787,1278 789.1,1280.2 791.2,1282.3 793.3,1284.5 795.4,1286.6 797.5,1288.7 799.6,1290.9 801.7,1293 803.7,1295.2 805.8,1297.4 808,1299.4 810.2,1301.4 812.6,1303.2 815,1304.9 817.5,1306.5 820.1,1308 822.8,1309.4 825.5,1310.6 828.3,1311.7 831.1,1312.6 834,1313.5 836.9,1314.3 839.8,1315 842.7,1315.7 845.7,1316.2 848.6,1316.7 851.6,1317.1 854.6,1317.3 857.6,1317.5 860.6,1317.7 863.6,1317.7 866.6,1317.7 869.6,1317.7 872.6,1317.6 875.6,1317.5 878.6,1317.4 881.6,1317.2 884.6,1316.9 887.5,1316.7 890.5,1316.4 893.5,1316.1 896.5,1315.7 899.5,1315.3 902.4,1314.9 905.4,1314.6 908.4,1314.2 911.4,1313.8 914.4,1313.5 917.3,1313.1 920.3,1312.7 923.3,1312.3 926.3,1311.9 929.2,1311.4 932.2,1310.8 935.1,1310.2 938,1309.6 941,1309 943.9,1308.4 946.9,1307.8 949.8,1307.2 952.7,1306.6 955.7,1306.1 958.6,1305.5 961.6,1304.9 964.5,1304.3 967.5,1303.7 970.4,1303.1 973.4,1302.5 976.3,1302 979.2,1301.4 982.2,1300.8 985.1,1300.2 988.1,1299.6 991,1299 993.9,1298.4 996.9,1297.7 999.8,1297 1002.7,1296.3 1005.6,1295.6 1008.5,1294.8 1012.9,1293.7 1015.8,1292.9 1018.6,1292.1 1021.5,1291.2 1024.4,1290.3 1027.2,1289.4 1030.1,1288.4 1032.9,1287.3 1035.7,1286.2 1038.4,1285.1 1041.2,1283.9 1043.9,1282.7 1046.7,1281.5 1049.4,1280.2 1052.2,1279.1 1054.9,1277.9 1057.7,1276.8 1060.5,1275.7 1063.4,1274.7 1066.2,1273.7 1069,1272.8 1071.9,1271.9 1074.8,1271 1077.7,1270.2 1080.5,1269.3 1083.4,1268.5 1086.3,1267.6 1089.2,1266.7 1092,1265.9 1094.9,1265 1097.7,1264.1 1100.6,1263.2 1103.5,1262.3 1106.3,1261.3 1109.2,1260.4 1112.1,1259.5 1114.9,1258.6 1117.8,1257.7 1120.6,1256.8 1123.5,1255.9 1126.4,1255 1129.2,1254.1 1132.1,1253.2 1134.9,1252.2 1137.8,1251.2 1140.6,1250.2 1143.4,1249.2 1146.2,1248.1 1149,1247.1 1151.8,1246 1154.6,1244.9 1157.4,1243.8 1160.2,1242.7 1163,1241.6 1165.8,1240.6 1168.6,1239.5 1171.4,1238.5 1174.3,1237.5 1177.1,1236.5 1179.9,1235.5 1182.8,1234.6 1185.6,1233.6 1188.5,1232.7 1191.3,1231.7 1194.2,1230.8 1197,1229.9 1199.9,1229.1 1202.8,1228.2 1205.7,1227.4 1208.6,1226.6 1211.5,1225.8 1214.4,1225 1217.3,1224.2 1220.2,1223.5 1223.1,1222.7 1226,1222 1228.9,1221.3 1231.8,1220.6 1234.7,1219.9 1237.6,1219.2 1240.6,1218.5 1243.5,1217.9 1246.4,1217.2 1249.4,1216.6 1252.3,1216 1255.3,1215.4 1258.2,1214.9 1261.2,1214.4 1264.1,1213.9 1267.1,1213.4 1270.1,1213 1273,1212.6 1276,1212.2 1279,1211.8 1282,1211.5 1284.9,1211.1 1287.9,1210.7 1290.9,1210.4 1293.9,1210.1 1296.9,1209.9 1299.9,1209.7 1302.9,1209.5 1305.9,1209.3 1308.8,1209.1 1311.8,1209 1314.8,1208.8 1317.8,1208.6 1320.8,1208.5 1323.8,1208.4 1326.8,1208.3 1329.8,1208.3 1332.8,1208.2 1335.8,1208.2 1338.8,1208.3 1341.8,1208.3 1344.8,1208.4 1347.8,1208.6 1350.8,1208.8 1353.8,1209.1 1356.8,1209.4 1359.7,1209.8 1362.7,1210.3 1365.6,1210.9 1368.6,1211.6 1371.5,1212.3 1374.4,1213.1 1377.2,1213.9 1380.1,1214.8 1383,1215.6 1385.9,1216.5 1388.8,1217.3 1391.6,1218.2 1394.5,1219 1397.4,1219.8 1400.3,1220.7 1403.2,1221.5 1406,1222.4 1408.9,1223.2 1411.8,1224.1 1414.7,1225 1417.5,1225.9 1420.4,1226.7 1423.3,1227.6 1426.1,1228.5 1429,1229.4 1431.9,1230.3 1434.7,1231.2 1437.6,1232.1 1440.4,1233 1443.3,1233.9 1446.2,1234.8 1449,1235.7 1451.9,1236.5 1454.8,1237.4 1457.7,1238.2 1460.6,1239 1463.5,1239.8 1466.4,1240.6 1469.2,1241.4 1472.1,1242.2 1475,1243 1477.9,1243.8 1480.8,1244.5 1483.7,1245.3 1486.6,1246.1 1489.5,1246.8 1492.4,1247.6 1495.3,1248.4 1498.2,1249.2 1501.1,1250.1 1504,1251 1506.8,1251.9 1509.7,1252.9 1512.5,1253.9 1515.3,1254.9 1518.1,1256 1520.9,1257.2 1523.6,1258.3 1526.4,1259.6 1529.1,1260.8 1531.8,1262.1 1534.5,1263.4 1537.2,1264.7 1539.9,1265.9 1542.7,1267.2 1545.4,1268.4 1548.2,1269.6 1550.9,1270.8 1553.7,1271.9 1556.5,1273 1559.3,1274.2 1562.1,1275.2 1564.9,1276.3 1567.7,1277.3 1570.5,1278.3 1573.4,1279.3 1576.2,1280.3 1579,1281.3 1581.9,1282.2 1584.7,1283.2 1587.5,1284.2 1590.3,1285.3 1593.1,1286.4 1595.9,1287.4 1598.7,1288.5 1601.5,1289.6 1604.3,1290.7 1607.1,1291.8 1610,1292.8 1612.8,1293.7 1615.7,1294.6 1618.5,1295.6 1621.4,1296.5 1624.2,1297.4 1627.1,1298.3 1629.9,1299.3 1632.8,1300.2 1635.6,1301.1 1638.5,1302 1641.4,1302.9 1644.2,1303.8 1647.1,1304.7 1650,1305.5 1652.9,1306.4 1655.7,1307.3 1658.6,1308.1 1661.5,1308.9 1664.4,1309.7 1667.3,1310.5 1670.2,1311.3 1673.1,1312.1 1676,1312.8 1678.9,1313.5 1681.8,1314.1 1684.8,1314.7 1687.7,1315.2 1690.7,1315.7 1693.7,1316.2 1696.6,1316.7 1699.6,1317.3 1702.5,1317.8 1705.5,1318.3 1708.4,1318.9 1711.4,1319.5 1714.3,1320 1717.3,1320.6 1720.2,1321.1 1723.2,1321.6 1726.1,1322.2 1729.1,1322.7 1732,1323.2 1735,1323.7 1738,1324.2 1740.9,1324.6 1743.9,1325.1 1746.9,1325.6 1749.8,1326 1752.8,1326.4 1755.8,1326.9 1758.7,1327.3 1761.7,1327.7 1764.7,1328.1 1767.7,1328.5 1770.6,1328.9 1773.6,1329.3 1776.6,1329.6 1779.6,1330 1782.5,1330.3 1785.5,1330.6 1788.5,1331 1791.5,1331.3 1794.5,1331.5 1797.5,1331.8 1800.5,1332.1 1803.5,1332.3 1806.5,1332.5 1809.4,1332.7 1812.4,1332.9 1815.4,1333.1 1818.4,1333.3 1821.4,1333.5 1824.4,1333.7 1827.4,1333.9 1830.4,1334.1 1833.4,1334.3 1836.4,1334.6 1839.4,1334.8 1842.4,1335.1 1845.4,1335.4 1848.3,1335.7 1851.3,1336 1854.3,1336.3 1857.3,1336.5 1860.3,1336.7 1863.3,1337 1866.3,1337.1 1869.3,1337.3 1872.3,1337.5 1875.3,1337.7 1878.3,1337.8 1881.3,1338 1884.3,1338.2 1887.3,1338.3 1890.3,1338.5 1893.2,1338.7 1896.2,1338.8 1899.2,1339 1902.2,1339.2 1905.2,1339.3 1908.2,1339.5 1911.2,1339.6 1914.2,1339.8 1917.2,1339.9 1920.2,1340.1 1923.2,1340.2 1926.2,1340.3 1929.2,1340.5 1932.2,1340.6 1935.2,1340.7 1938.2,1340.8 1941.2,1340.9 1944.2,1341 1947.2,1341.1 1950.2,1341.3 1953.2,1341.4 1956.2,1341.5 1959.2,1341.6 1962.2,1341.7" stroke="#0000FF"/>
<path d="M268,693 268.6,695.9 269.2,698.9 269.8,701.8 270.4,704.8 271,707.7 271.7,710.6 272.3,713.6 273,716.5 273.7,719.4 274.4,722.3 275.1,725.2 275.9,728.1 276.6,731 277.4,733.9 278.1,736.8 278.8,739.8 279.6,742.7 280.2,745.6 280.9,748.5 281.6,751.4 282.2,754.4 282.8,757.3 283.3,760.3 283.9,763.2 284.5,766.2 285,769.1 285.6,772.1 286.1,775 286.7,778 287.2,780.9 287.7,783.9 288.3,786.8 288.8,789.8 289.3,792.7 289.8,795.7 290.4,798.6 290.9,801.6 291.5,804.5 292,807.5 292.6,810.4 293.1,813.4 293.7,816.3 294.2,819.3 294.8,822.2 295.4,825.2 295.9,828.1 296.5,831.1 297.1,834 297.7,836.9 298.3,839.9 298.9,842.8 299.5,845.8 300.1,848.7 300.6,851.6 301.2,854.6 301.8,857.5 302.4,860.5 303,863.4 303.6,866.4 304.2,869.3 304.9,872.2 305.6,875.1 306.3,878.1 307,881 307.7,883.9 308.5,886.8 309.2,889.7 310,892.6 310.8,895.5 311.6,898.4 312.4,901.2 313.3,904.1 314.2,907 315.1,909.9 316,912.7 317,915.5 318,918.4 319.1,921.2 320.1,924 321.3,926.7 322.4,929.5 323.6,932.3 324.8,935 326,937.8 327.3,940.5 328.7,943.1 330.1,945.8 331.5,948.4 332.9,951.1 334.3,953.7 335.6,956.4 337,959.1 338.4,961.7 339.8,964.4 341.1,967.1 342.5,969.8 343.8,972.4 345.2,975.1 346.5,977.8 347.9,980.5 349.2,983.2 350.6,985.8 352,988.5 353.4,991.2 354.8,993.8 356.3,996.4 357.8,999 359.5,1001.4 361.3,1003.8 363.2,1006.1 365.2,1008.3 367.4,1010.4 369.5,1012.5 371.7,1014.5 373.9,1016.5 376.2,1018.5 378.4,1020.5 380.8,1022.3 383.2,1024 385.8,1025.4 388.5,1026.6 391.2,1027.3 394,1027.6 396.8,1027.3 399.6,1026.5 402.1,1025.2 404.5,1023.6 406.8,1021.7 409,1019.6 411.1,1017.5 413.3,1015.4 415.4,1013.4 417.6,1011.3 419.8,1009.3 422,1007.2 424.2,1005.2 426.2,1003 428.2,1000.8 430,998.4 431.6,995.9 433.1,993.3 434.3,990.6 435.4,987.8 436.4,985 437.3,982.2 438.2,979.3 439,976.4 439.7,973.5 440.5,970.6 441.3,967.7 442,964.8 442.8,961.9 443.6,959 444.4,956.1 445.2,953.2 446.1,950.4 447.1,947.5 448,944.7 449,941.8 450,939 451.1,936.2 452.2,933.4 453.3,930.6 454.5,927.9 455.7,925.1 457,922.4 458.3,919.8 459.7,917.1 461.2,914.5 462.6,911.9 464.2,909.3 465.6,906.7 467,904 468.3,901.3 469.5,898.6 470.6,895.8 471.8,893.1 472.9,890.3 474.1,887.5 475.4,884.8 476.6,882.1 477.9,879.4 479.2,876.6 480.4,873.9 481.7,871.2 482.9,868.5 484.2,865.7 485.5,863 486.7,860.3 488,857.6 489.3,854.9 490.7,852.2 492.1,849.6 493.5,846.9 495,844.3 496.5,841.8 498.1,839.2 499.6,836.6 501,834 502.3,831.3 503.5,828.6 504.6,825.8 505.7,823 507,820.3 508.3,817.6 509.6,815 511,812.3 512.4,809.6 513.8,807 515.1,804.3 516.3,801.5 517.6,798.8 518.9,796.1 520.1,793.4 521.4,790.7 522.6,787.9 523.9,785.2 525.1,782.4 526.3,779.7 527.5,777 528.8,774.3 530.1,771.6 531.6,769 533.1,766.4 534.7,763.9 536.4,761.4 538.1,758.9 539.8,756.4 541.6,754 543.4,751.7 545.4,749.4 547.4,747.2 549.5,745.1 551.8,743.2 554.2,741.4 556.7,739.9 559.3,738.5 562,737.3 564.9,736.5 567.7,735.9 570.6,735.7 573.6,735.8 576.5,736.2 579.4,736.7 582.4,737.1 585.3,737.4 588.3,737.5 591.3,737.5 594.2,737.3 597.2,737.2 600.2,737.3 603,737.7 605.8,738.5 608.3,739.7 610.7,741.4 612.8,743.4 614.7,745.6 616.5,747.9 618.3,750.4 620,752.8 621.7,755.3 623.3,757.8 624.9,760.4 626.4,763 627.7,765.6 629,768.3 630.3,771.1 631.5,773.8 632.8,776.5 634,779.3 635.3,782 636.5,784.7 637.8,787.4 639.1,790.1 640.3,792.9 641.6,795.6 642.8,798.3 644,801.1 645.3,803.8 646.5,806.5 647.8,809.2 649.1,811.9 650.5,814.6 651.9,817.2 653.3,819.9 654.8,822.5 656.2,825.2 657.6,827.8 659,830.5 660.4,833.1 661.9,835.7 663.3,838.3 664.8,840.9 666.3,843.5 667.8,846.1 669.3,848.8 670.7,851.4 672.1,854 673.5,856.7 674.8,859.4 676.1,862.1 677.4,864.8 678.6,867.6 679.9,870.3 681.3,872.9 682.7,875.5 684.3,878.1 686,880.5 687.8,882.8 689.7,885.1 691.6,887.3 693.3,889.7 694.8,892.2 696.2,894.8 697.5,897.5 698.9,900.1 700.3,902.8 701.7,905.5 703.1,908.1 704.4,910.8 705.7,913.5 707,916.2 708.3,918.9 709.4,921.7 710.6,924.5 711.7,927.2 712.8,930 713.9,932.8 714.9,935.7 715.8,938.5 716.8,941.4 717.7,944.2 718.6,947.1 719.6,949.9 720.5,952.8 721.5,955.6 722.5,958.4 723.6,961.2 724.8,964 726,966.7 727.2,969.5 728.4,972.2 729.7,974.9 730.9,977.7 732,980.4 733.1,983.2 734.1,986 735.1,988.9 736.1,991.7 737,994.6 738,997.4 738.9,1000.3 739.9,1003.1 740.9,1005.9 741.8,1008.8 742.8,1011.6 743.8,1014.4 744.8,1017.3 745.9,1020.1 746.9,1022.9 747.9,1025.7 748.9,1028.5 749.9,1031.4 750.9,1034.2 751.9,1037.1 752.8,1039.9 753.8,1042.7 754.8,1045.6 755.8,1048.4 756.8,1051.2 757.8,1054 758.8,1056.9 759.8,1059.7 760.8,1062.5 761.8,1065.4 762.7,1068.2 763.7,1071 764.7,1073.9 765.7,1076.7 766.7,1079.5 767.7,1082.4 768.7,1085.2 769.8,1088 770.8,1090.8 771.8,1093.6 772.9,1096.4 774,1099.2 775.1,1102 776.2,1104.8 777.3,1107.6 778.5,1110.4 779.6,1113.1 780.8,1115.9 782.1,1118.6 783.3,1121.3 784.7,1124 786.1,1126.7 787.6,1129.3 789.1,1131.8 790.7,1134.3 792.3,1136.9 793.9,1139.4 795.5,1142 797,1144.5 798.6,1147.1 800.2,1149.6 801.9,1152.1 803.5,1154.6 805.2,1157.1 806.9,1159.6 808.7,1162 810.4,1164.5 812.2,1166.9 813.9,1169.3 815.7,1171.7 817.5,1174.1 819.3,1176.5 821.2,1178.9 823,1181.2 825,1183.5 827.1,1185.6 829.3,1187.7 831.5,1189.7 833.8,1191.6 836.1,1193.5 838.5,1195.3 840.9,1197 843.3,1198.8 845.7,1200.7 848.1,1202.5 850.5,1204.2 853,1205.8 855.6,1207.1 858.4,1208.3 861.2,1209.3 864,1210.2 866.9,1211 869.8,1211.7 872.7,1212.4 875.7,1212.9 878.6,1213.4 881.6,1213.8 884.6,1214.2 887.6,1214.5 890.6,1214.8 893.5,1215 896.5,1215.2 899.5,1215.4 902.5,1215.5 905.5,1215.6 908.5,1215.6 911.5,1215.7 914.5,1215.7 917.5,1215.7 920.5,1215.7 923.5,1215.7 926.5,1215.7 929.5,1215.6 932.5,1215.5 935.5,1215.4 938.5,1215.2 941.5,1214.9 944.5,1214.6 947.4,1214.2 950.4,1213.7 953.4,1213.3 956.4,1212.9 959.3,1212.5 962.3,1212 965.3,1211.6 968.2,1211.1 971.2,1210.6 974.1,1210.1 977.1,1209.5 980,1208.9 983,1208.3 985.9,1207.7 988.8,1207.1 991.8,1206.5 994.7,1206 997.7,1205.4 1000.6,1204.8 1003.6,1204.3 1006.5,1203.7 1009.5,1203.2 1012.4,1202.7 1015.4,1202.2 1018.3,1201.6 1021.3,1201.1 1024.2,1200.6 1027.2,1200 1030.1,1199.3 1033,1198.6 1035.9,1197.8 1038.8,1196.9 1041.6,1196.1 1044.5,1195.3 1047.4,1194.4 1050.3,1193.6 1053.2,1192.8 1056.1,1192 1059,1191.2 1061.8,1190.4 1064.7,1189.5 1067.6,1188.7 1070.5,1187.8 1073.3,1186.9 1076.2,1186 1079.1,1185.1 1081.9,1184.2 1084.8,1183.2 1087.6,1182.3 1090.4,1181.3 1093.3,1180.3 1096.1,1179.4 1098.9,1178.4 1101.8,1177.3 1104.6,1176.3 1107.4,1175.3 1110.2,1174.2 1113,1173.1 1115.8,1172.1 1118.6,1171 1121.4,1169.9 1124.2,1168.8 1127,1167.7 1129.8,1166.6 1132.6,1165.5 1135.3,1164.3 1138.1,1163.2 1140.9,1162.1 1143.7,1160.9 1146.4,1159.8 1149.2,1158.6 1152,1157.4 1154.7,1156.3 1157.5,1155.1 1160.2,1153.9 1163,1152.7 1165.7,1151.4 1168.4,1150.2 1171.2,1149 1173.9,1147.7 1176.6,1146.5 1179.4,1145.2 1182.1,1144 1184.8,1142.8 1187.6,1141.6 1190.4,1140.4 1193.1,1139.2 1195.9,1138.1 1198.7,1137 1201.5,1135.9 1204.3,1134.8 1207,1133.7 1209.8,1132.6 1212.6,1131.5 1215.4,1130.3 1218.2,1129.2 1220.9,1128 1223.7,1126.8 1226.4,1125.6 1229.2,1124.3 1231.9,1123.1 1234.6,1121.9 1237.4,1120.7 1240.2,1119.6 1243,1118.5 1245.8,1117.5 1248.6,1116.5 1251.5,1115.6 1254.3,1114.7 1257.2,1113.9 1260.1,1113 1263,1112.2 1265.9,1111.5 1268.8,1110.9 1271.8,1110.4 1274.7,1109.9 1277.7,1109.5 1280.7,1109 1283.6,1108.6 1286.6,1108.2 1289.6,1107.8 1292.6,1107.5 1295.6,1107.1 1298.5,1106.8 1301.5,1106.5 1304.5,1106.1 1307.5,1105.8 1310.5,1105.5 1313.5,1105.3 1316.4,1105 1319.4,1104.8 1322.4,1104.7 1325.4,1104.6 1328.4,1104.5 1331.4,1104.5 1334.4,1104.6 1337.4,1104.7 1340.4,1104.8 1343.4,1105 1346.4,1105.3 1349.4,1105.6 1352.4,1105.9 1355.3,1106.3 1358.3,1106.7 1361.3,1107.2 1364.2,1107.7 1367.2,1108.3 1370.1,1108.9 1373,1109.5 1376,1110.2 1378.9,1110.9 1381.8,1111.7 1384.7,1112.5 1387.6,1113.3 1390.4,1114.1 1393.3,1114.9 1396.2,1115.8 1399.1,1116.7 1401.9,1117.6 1404.8,1118.5 1407.6,1119.5 1410.4,1120.5 1413.3,1121.5 1416.1,1122.5 1418.9,1123.5 1421.7,1124.5 1424.6,1125.6 1427.4,1126.6 1430.2,1127.7 1433,1128.7 1435.8,1129.8 1438.6,1130.9 1441.3,1132.1 1444.1,1133.3 1446.8,1134.5 1449.5,1135.8 1452.2,1137.1 1454.9,1138.5 1457.5,1139.9 1460.2,1141.3 1462.8,1142.8 1465.4,1144.3 1468,1145.8 1470.6,1147.3 1473.2,1148.8 1475.8,1150.3 1478.4,1151.8 1480.9,1153.3 1483.5,1154.9 1486.1,1156.4 1488.7,1157.9 1491.3,1159.4 1493.9,1160.9 1496.5,1162.3 1499.2,1163.7 1501.9,1165.1 1504.5,1166.4 1507.2,1167.7 1510,1169 1512.7,1170.3 1515.4,1171.6 1518,1173 1520.7,1174.4 1523.2,1175.9 1525.8,1177.5 1528.3,1179.1 1530.8,1180.7 1533.3,1182.4 1535.8,1184.1 1538.3,1185.8 1540.8,1187.5 1543.3,1189.1 1545.7,1190.8 1548.2,1192.6 1550.7,1194.3 1553.1,1196 1555.6,1197.7 1558.1,1199.4 1560.5,1201.2 1563,1202.9 1565.4,1204.6 1567.9,1206.3 1570.3,1208 1572.8,1209.8 1575.3,1211.5 1577.7,1213.2 1580.2,1214.9 1582.6,1216.6 1585.1,1218.4 1587.5,1220.1 1590,1221.8 1592.5,1223.5 1594.9,1225.2 1597.4,1227 1599.8,1228.7 1602.3,1230.4 1604.8,1232.1 1607.2,1233.8 1609.7,1235.5 1612.2,1237.2 1614.6,1239 1617.1,1240.7 1619.5,1242.4 1622,1244.1 1624.4,1245.9 1626.9,1247.6 1629.3,1249.3 1631.8,1251.1 1634.3,1252.8 1636.7,1254.5 1639.2,1256.1 1641.7,1257.7 1644.3,1259.4 1646.8,1260.9 1649.4,1262.5 1652,1264 1654.6,1265.5 1657.2,1267 1659.8,1268.5 1662.4,1270 1665,1271.5 1667.6,1273 1670.2,1274.4 1672.9,1275.9 1675.5,1277.3 1678.1,1278.7 1680.8,1280.1 1683.5,1281.5 1686.1,1282.8 1688.8,1284.2 1691.5,1285.6 1694.2,1286.9 1696.8,1288.2 1699.5,1289.6 1702.2,1290.9 1704.9,1292.2 1707.6,1293.6 1710.3,1294.9 1713,1296.2 1715.7,1297.5 1718.4,1298.8 1721.1,1300 1723.9,1301.3 1726.6,1302.5 1729.4,1303.7 1732.1,1304.8 1734.9,1306 1737.7,1307.1 1740.5,1308.2 1743.3,1309.3 1746.1,1310.3 1748.9,1311.4 1751.7,1312.4 1754.5,1313.4 1757.3,1314.5 1760.2,1315.5 1763,1316.5 1765.8,1317.6 1768.6,1318.6 1771.4,1319.6 1774.3,1320.6 1777.1,1321.6 1779.9,1322.6 1782.8,1323.5 1785.6,1324.4 1788.5,1325.3 1791.4,1326.2 1794.3,1327.1 1797.1,1327.9 1800,1328.6 1803,1329.3 1805.9,1330 1808.8,1330.7 1811.7,1331.3 1814.7,1331.9 1817.6,1332.5 1820.6,1333 1823.5,1333.6 1826.5,1334.1 1829.4,1334.6 1832.4,1335.1 1835.3,1335.7 1838.3,1336.3 1841.2,1337 1844,1337.9 1846.9,1338.7 1849.8,1339.7 1852.6,1340.5 1855.5,1341.3 1858.4,1342.1 1861.3,1342.8 1864.3,1343.4 1867.2,1344 1870.1,1344.6 1873.1,1345.2 1876,1345.8 1879,1346.3 1881.9,1346.9 1884.9,1347.4 1887.8,1348 1890.8,1348.5 1893.7,1349.1 1896.7,1349.6 1899.6,1350.1 1902.6,1350.7 1905.5,1351.2 1908.5,1351.6 1911.5,1352.1 1914.4,1352.5 1917.4,1353 1920.4,1353.3 1923.4,1353.7 1926.3,1354 1929.3,1354.3 1932.3,1354.6 1935.3,1354.9 1938.3,1355.2 1941.3,1355.4 1944.3,1355.7 1947.3,1356 1950.2,1356.2 1953.2,1356.5 1956.2,1356.7 1959.2,1356.9 1962.2,1357.2" stroke="#800080"/>
<path d="M416.6,785.7 418.3,788.2 420,790.6 421.8,793.1 423.6,795.4 425.5,797.7 427.6,799.9 429.7,802 431.9,803.9 434.3,805.7 436.9,807.3 439.5,808.6 442.2,809.7 445.1,810.5 447.9,811 450.8,811.1 453.8,810.8 456.6,810.2 459.5,809.4 462.3,808.3 465,807.1 467.6,805.7 470.2,804.2 472.8,802.6 475.2,800.9 477.5,799 479.6,797 481.7,794.8 483.6,792.5 485.5,790.2 487.5,788 489.6,785.8 491.7,783.7 493.8,781.5 495.9,779.4 497.9,777.2 499.8,774.9 501.6,772.5 503.4,770.1 505.1,767.6 506.7,765.1 508.3,762.6 510,760.1 511.6,757.5 513.3,755 514.9,752.5 516.6,750 518.2,747.5 519.9,745 521.5,742.5 523.2,740 524.8,737.5 526.5,735 528.1,732.5 529.8,730 531.5,727.5 533.2,725 534.9,722.6 536.7,720.2 538.6,717.9 540.5,715.5 542.5,713.3 544.5,711 546.5,708.9 548.7,706.8 550.9,704.9 553.3,703.1 555.8,701.6 558.5,700.5 561.3,699.7 564.2,699.4 567.1,699.4 570,699.6 572.9,700.2 575.8,701 578.5,702.1 581.2,703.4 583.8,704.8 586.4,706.3 589,707.7 591.7,709.1 594.4,710.4 597.2,711.5 599.9,712.6 602.7,713.6 605.5,714.7 608.1,716 610.7,717.6 613.1,719.3 615.3,721.2 617.5,723.3 619.6,725.4 621.6,727.7 623.5,730 625.2,732.4 626.9,734.9 628.5,737.4 630,740 631.5,742.6 632.9,745.3 634.3,747.9 635.7,750.6 637,753.3 638.4,755.9 639.7,758.6 641.1,761.3 642.4,764 643.7,766.7 645,769.4 646.2,772.2 647.4,774.9 648.6,777.7 649.7,780.5 650.7,783.3 651.7,786.1 652.8,788.9 653.9,791.7 655,794.5 656.2,797.2 657.6,799.9 659,802.5 660.4,805.2 661.8,807.8 663.3,810.4 664.7,813.1 666.2,815.7 667.6,818.4 668.9,821 670.3,823.7 671.6,826.4 672.9,829.1 674.2,831.8 675.5,834.5 676.7,837.2 678.1,839.9 679.4,842.6 680.7,845.3 682.1,848 683.4,850.7 684.7,853.4 686,856.1 687.3,858.8 688.6,861.5 689.8,864.3 691,867 692.1,869.8 693.2,872.6 694.3,875.4 695.4,878.2 696.5,881 697.7,883.7 699,886.4 700.3,889.1 701.6,891.8 703,894.5 704.4,897.1 705.8,899.8 707.2,902.4 708.6,905.1 709.9,907.8 711.2,910.5 712.4,913.2 713.7,916 714.9,918.7 716.2,921.4 717.3,924.2 718.5,927 719.6,929.7 720.7,932.6 721.7,935.4 722.7,938.2 723.6,941.1 724.5,943.9 725.5,946.8 726.4,949.6 727.4,952.5 728.4,955.3 729.4,958.1 730.5,960.9 731.6,963.7 732.8,966.4 734,969.2 735.3,971.9 736.5,974.6 737.8,977.4 738.9,980.1 740.1,982.9 741.2,985.7 742.2,988.5 743.2,991.3 744.2,994.2 745.2,997 746.2,999.8 747.1,1002.7 748.1,1005.5 749,1008.4 749.9,1011.3 750.8,1014.1 751.7,1017 752.7,1019.8 753.6,1022.7 754.6,1025.5 755.6,1028.3 756.6,1031.2 757.5,1034 758.5,1036.8 759.5,1039.7 760.5,1042.5 761.5,1045.3 762.6,1048.1 763.6,1051 764.7,1053.8 765.7,1056.6 766.7,1059.4 767.7,1062.2 768.7,1065.1 769.6,1067.9 770.6,1070.8 771.6,1073.6 772.6,1076.4 773.6,1079.3 774.6,1082.1 775.6,1084.9 776.6,1087.7 777.6,1090.6 778.6,1093.4 779.5,1096.3 780.4,1099.1 781.2,1102 782.1,1104.9 783,1107.7 783.9,1110.6 784.8,1113.5 785.7,1116.3 786.6,1119.2 787.5,1122.1 788.4,1124.9 789.3,1127.8 790.3,1130.6 791.2,1133.5 792.2,1136.3 793.2,1139.1 794.1,1142 795,1144.9 795.7,1147.8 796.5,1150.7 797.1,1153.6 797.8,1156.5 798.6,1159.4 799.4,1162.3 800.2,1165.2 801.1,1168 802.1,1170.9 803,1173.7 804,1176.6 805,1179.4 806,1182.2 807,1185.1 808.1,1187.9 809.2,1190.6 810.4,1193.4 811.5,1196.2 812.8,1198.9 814,1201.6 815.3,1204.3 816.6,1207 818,1209.7 819.3,1212.4 820.7,1215.1 822,1217.8 823.4,1220.4 824.7,1223.1 826.2,1225.7 827.6,1228.4 829.1,1231 830.6,1233.5 832.1,1236.1 833.6,1238.8 835.1,1241.4 836.6,1244 838.2,1246.5 839.8,1249 841.5,1251.5 843.3,1253.9 845.1,1256.3 847,1258.6 848.9,1260.9 850.9,1263.1 853,1265.4 855,1267.5 857.1,1269.7 859.3,1271.8 861.4,1273.9 863.6,1275.9 865.9,1277.9 868.2,1279.7 870.6,1281.5 873.1,1283.1 875.7,1284.6 878.4,1286 881.1,1287.2 883.9,1288.3 886.7,1289.3 889.5,1290.3 892.4,1291.1 895.3,1291.9 898.2,1292.6 901.2,1293.2 904.1,1293.7 907.1,1294.2 910.1,1294.5 913,1294.7 916,1294.8 919,1294.9 922,1294.8 925,1294.7 928,1294.6 931,1294.3 934,1294 937,1293.7 939.9,1293.3 942.9,1292.9 945.9,1292.4 948.8,1291.9 951.8,1291.4 954.8,1290.9 957.7,1290.3 960.6,1289.7 963.6,1289.1 966.5,1288.5 969.4,1287.8 972.3,1287 975.2,1286.2 978.1,1285.4 981,1284.6 983.9,1283.7 986.7,1282.9 989.6,1282 992.5,1281.1 995.4,1280.2 998.2,1279.4 1001.1,1278.5 1004,1277.6 1008.3,1276.4 1011.2,1275.5 1014.1,1274.7 1016.9,1273.8 1019.8,1273 1022.7,1272.1 1025.5,1271.2 1028.4,1270.3 1031.3,1269.3 1034.1,1268.4 1036.9,1267.4 1039.8,1266.4 1042.6,1265.4 1045.4,1264.4 1048.2,1263.3 1051,1262.3 1053.8,1261.2 1056.6,1260.1 1059.4,1259 1062.2,1257.9 1065,1256.7 1067.7,1255.5 1070.5,1254.3 1073.2,1253.1 1076,1251.9 1078.7,1250.7 1081.5,1249.5 1084.2,1248.3 1087,1247.1 1089.7,1245.9 1092.5,1244.8 1095.3,1243.6 1098.1,1242.5 1100.8,1241.4 1103.6,1240.3 1106.4,1239.1 1109.2,1238 1112,1236.9 1114.7,1235.7 1117.5,1234.5 1120.2,1233.3 1123,1232.1 1125.7,1230.8 1128.4,1229.6 1131.1,1228.3 1133.8,1226.9 1136.5,1225.6 1139.2,1224.2 1141.9,1222.9 1144.5,1221.5 1147.2,1220.1 1149.9,1218.7 1152.5,1217.3 1155.2,1215.9 1157.8,1214.5 1160.4,1213.1 1163.1,1211.6 1165.7,1210.2 1168.4,1208.8 1171,1207.4 1173.6,1205.9 1176.3,1204.5 1178.9,1203 1181.5,1201.6 1184.2,1200.2 1186.8,1198.7 1189.5,1197.3 1192.1,1195.9 1194.8,1194.6 1197.5,1193.2 1200.1,1191.9 1202.8,1190.5 1205.5,1189.2 1208.3,1188 1211,1186.7 1213.7,1185.4 1216.4,1184.1 1219.1,1182.8 1221.8,1181.5 1224.5,1180.2 1227.2,1179 1230,1177.7 1232.7,1176.4 1235.4,1175.1 1238.1,1173.9 1240.9,1172.7 1243.6,1171.5 1246.4,1170.3 1249.1,1169.1 1251.9,1167.9 1254.6,1166.7 1257.4,1165.6 1260.2,1164.4 1262.9,1163.2 1265.7,1162 1268.5,1160.9 1271.2,1159.7 1274,1158.5 1276.7,1157.4 1279.5,1156.2 1282.3,1155.2 1285.1,1154.1 1287.9,1153 1290.8,1152 1293.6,1151 1296.4,1150 1299.3,1149 1302.1,1148 1304.9,1147 1307.8,1146 1310.6,1145 1313.4,1144.1 1316.3,1143.1 1319.1,1142.1 1322,1141.2 1324.8,1140.4 1327.7,1139.6 1330.6,1138.9 1333.6,1138.2 1336.5,1137.6 1339.5,1137.1 1342.4,1136.6 1345.4,1136.1 1348.4,1135.7 1351.3,1135.4 1354.3,1135 1357.3,1134.7 1360.3,1134.4 1363.3,1134.1 1366.3,1133.9 1369.3,1133.6 1372.3,1133.4 1375.2,1133.2 1378.2,1133.1 1381.2,1133 1384.2,1132.9 1387.2,1132.9 1390.2,1133 1393.2,1133.1 1396.2,1133.3 1399.2,1133.5 1402.2,1133.7 1405.2,1134 1408.2,1134.4 1411.2,1134.7 1414.1,1135.1 1417.1,1135.5 1420.1,1136 1423,1136.4 1426,1136.9 1429,1137.4 1431.9,1137.9 1434.9,1138.5 1437.8,1139.1 1440.7,1139.7 1443.7,1140.4 1446.6,1141 1449.5,1141.7 1452.4,1142.5 1455.3,1143.2 1458.2,1144 1461.1,1144.9 1464,1145.7 1466.9,1146.6 1469.7,1147.5 1472.6,1148.4 1475.4,1149.3 1478.3,1150.3 1481.1,1151.3 1483.9,1152.3 1486.7,1153.4 1489.5,1154.5 1492.3,1155.7 1495,1156.9 1497.8,1158 1500.6,1159.2 1503.4,1160.3 1506.1,1161.4 1508.9,1162.5 1511.7,1163.6 1514.5,1164.7 1517.3,1165.8 1520,1167 1522.8,1168.3 1525.5,1169.6 1528.2,1170.9 1530.9,1172.2 1533.5,1173.6 1536.2,1174.9 1538.9,1176.3 1541.6,1177.6 1544.3,1179 1547,1180.3 1549.6,1181.6 1552.3,1183 1555,1184.3 1557.7,1185.7 1560.3,1187.2 1562.9,1188.6 1565.5,1190.1 1568.1,1191.7 1570.7,1193.2 1573.2,1194.8 1575.8,1196.3 1578.4,1197.9 1580.9,1199.4 1583.5,1201 1586.1,1202.5 1588.6,1204.1 1591.2,1205.6 1593.8,1207.1 1596.4,1208.7 1599,1210.2 1601.6,1211.7 1604.2,1213.1 1606.8,1214.6 1609.5,1216 1612.1,1217.4 1614.7,1218.9 1617.4,1220.4 1620,1221.8 1622.6,1223.3 1625.1,1224.9 1627.7,1226.4 1630.3,1227.9 1632.9,1229.5 1635.4,1231 1638,1232.6 1640.6,1234.1 1643.2,1235.7 1645.7,1237.2 1648.3,1238.8 1650.9,1240.3 1653.5,1241.8 1656,1243.4 1658.6,1244.9 1661.2,1246.4 1663.8,1247.9 1666.4,1249.4 1669,1250.9 1671.7,1252.3 1674.3,1253.8 1676.9,1255.2 1679.6,1256.6 1682.2,1258 1684.9,1259.4 1687.6,1260.7 1690.3,1262.1 1692.9,1263.4 1695.6,1264.8 1698.3,1266.2 1700.9,1267.6 1703.6,1269 1706.2,1270.4 1708.8,1271.9 1711.5,1273.3 1714.1,1274.8 1716.8,1276.2 1719.4,1277.5 1722.1,1278.9 1724.8,1280.2 1727.5,1281.5 1730.2,1282.8 1733,1284 1735.7,1285.2 1738.4,1286.4 1741.2,1287.6 1744,1288.8 1746.8,1289.9 1749.5,1291.1 1752.3,1292.2 1755.1,1293.3 1757.9,1294.5 1760.6,1295.6 1763.4,1296.8 1766.2,1298 1768.9,1299.1 1771.7,1300.3 1774.5,1301.4 1777.2,1302.6 1780,1303.7 1782.8,1304.8 1785.6,1305.9 1788.4,1306.9 1791.3,1307.9 1794.1,1308.9 1796.9,1309.9 1799.8,1310.9 1802.6,1311.8 1805.5,1312.6 1808.4,1313.5 1811.3,1314.3 1814.2,1315 1817.1,1315.7 1820,1316.3 1823,1316.8 1825.9,1317.3 1828.9,1317.8 1831.9,1318.3 1834.8,1318.7 1837.8,1319.2 1840.8,1319.8 1843.7,1320.4 1846.6,1321 1849.6,1321.6 1852.5,1322.3 1855.4,1322.9 1858.4,1323.6 1861.3,1324.2 1864.2,1324.7 1867.2,1325.3 1870.1,1325.9 1873.1,1326.5 1876,1327.1 1879,1327.6 1881.9,1328.2 1884.9,1328.7 1887.8,1329.3 1890.8,1329.8 1893.7,1330.3 1896.7,1330.8 1899.6,1331.3 1902.6,1331.8 1905.6,1332.3 1908.5,1332.7 1911.5,1333.2 1914.5,1333.6 1917.4,1334.1 1920.4,1334.5 1923.4,1334.9 1926.4,1335.3 1929.3,1335.7 1932.3,1336 1935.3,1336.3 1938.3,1336.7 1941.3,1337 1944.3,1337.2 1947.2,1337.5 1950.2,1337.8 1953.2,1338 1956.2,1338.3 1959.2,1338.5 1962.2,1338.8" stroke="#FF0000"/>
</g>
<g stroke="#000" stroke-width="4.0" fill="none" stroke-linecap="square">
<rect x="267" y="61.5" width="1696.4" height="1297.5" stroke-linecap="butt"/>
<line x1="509.3" y1="1359" x2="509.3" y2="1379"/>
<line x1="994" y1="1359" x2="994" y2="1379"/>
<line x1="1478.7" y1="1359" x2="1478.7" y2="1379"/>
<line x1="1963.4" y1="1359" x2="1963.4" y2="1379"/>
<line x1="267" y1="1359" x2="267" y2="1368.5"/>
<line x1="751.7" y1="1359" x2="751.7" y2="1368.5"/>
<line x1="1236.4" y1="1359" x2="1236.4" y2="1368.5"/>
<line x1="1721.1" y1="1359" x2="1721.1" y2="1368.5"/>
<line x1="267" y1="1359" x2="245.5" y2="1359"/>
<line x1="267" y1="1133.3" x2="245.5" y2="1133.3"/>
<line x1="267" y1="907.6" x2="245.5" y2="907.6"/>
<line x1="267" y1="681.9" x2="245.5" y2="681.9"/>
<line x1="267" y1="456.2" x2="245.5" y2="456.2"/>
<line x1="267" y1="230.5" x2="245.5" y2="230.5"/>
<line x1="267" y1="1246.2" x2="257" y2="1246.2"/>
<line x1="267" y1="1020.4" x2="257" y2="1020.4"/>
<line x1="267" y1="794.8" x2="257" y2="794.8"/>
<line x1="267" y1="569" x2="257" y2="569"/>
<line x1="267" y1="343.4" x2="257" y2="343.4"/>
<line x1="267" y1="117.6" x2="257" y2="117.6"/>
</g>
<g font-family="Liberation Sans, Arial, sans-serif" font-size="61" fill="#000">
<text x="228.5" y="1377.3" text-anchor="end">0.0</text>
<text x="228.5" y="1151.6" text-anchor="end">0.4</text>
<text x="228.5" y="925.9" text-anchor="end">0.8</text>
<text x="228.5" y="700.2" text-anchor="end">1.2</text>
<text x="228.5" y="474.5" text-anchor="end">1.6</text>
<text x="228.5" y="248.8" text-anchor="end">2.0</text>
<text x="509.3" y="1445" text-anchor="middle">300</text>
<text x="994" y="1445" text-anchor="middle">400</text>
<text x="1478.7" y="1445" text-anchor="middle">500</text>
<text x="1963.4" y="1445" text-anchor="middle">600</text>
</g>
<text font-family="Liberation Sans, Arial, sans-serif" font-size="67" x="876" y="1548.5" fill="#000">Wavelength, nm</text>
<text font-family="Liberation Sans, Arial, sans-serif" font-size="67" fill="#000" transform="translate(111.8,1140) rotate(-90)">Extinction, l mol<tspan dx="-5" dy="-24.6">-1</tspan><tspan dx="-2" dy="24.6"> cm</tspan><tspan dy="-24.6">-1</tspan><tspan dy="24.6"> x 10</tspan><tspan dy="-26.8" font-size="44">5</tspan></text>
<line x1="1518.8" y1="159.9" x2="1652" y2="159.9" stroke="#008000" stroke-width="5.8" stroke-linecap="round"/>
<text font-family="Liberation Sans, Arial, sans-serif" font-size="60" x="1670.4" y="181.3" fill="#000">C<tspan font-size="41" dy="15.7">6</tspan><tspan dy="-15.7">H</tspan><tspan font-size="41" dy="15.7">12</tspan></text>
<line x1="1518.8" y1="247.5" x2="1652" y2="247.5" stroke="#FF8000" stroke-width="5.8" stroke-linecap="round"/>
<text font-family="Liberation Sans, Arial, sans-serif" font-size="60" x="1670.4" y="268.8" fill="#000">CHCl<tspan font-size="41" dy="15.7">3</tspan></text>
<line x1="1518.8" y1="335.5" x2="1652" y2="335.5" stroke="#0000FF" stroke-width="5.8" stroke-linecap="round"/>
<text font-family="Liberation Sans, Arial, sans-serif" font-size="60" x="1670.4" y="355.7" fill="#000">AcOEt</text>
<line x1="1518.8" y1="410" x2="1652" y2="410" stroke="#800080" stroke-width="5.8" stroke-linecap="round"/>
<text font-family="Liberation Sans, Arial, sans-serif" font-size="60" x="1670.4" y="430.4" fill="#000">THF</text>
<line x1="1518.8" y1="484.2" x2="1652" y2="484.2" stroke="#FF0000" stroke-width="5.8" stroke-linecap="round"/>
<text font-family="Liberation Sans, Arial, sans-serif" font-size="60" x="1670.4" y="504.9" fill="#000">DMSO</text>
</g>
</svg>
</body></html>
